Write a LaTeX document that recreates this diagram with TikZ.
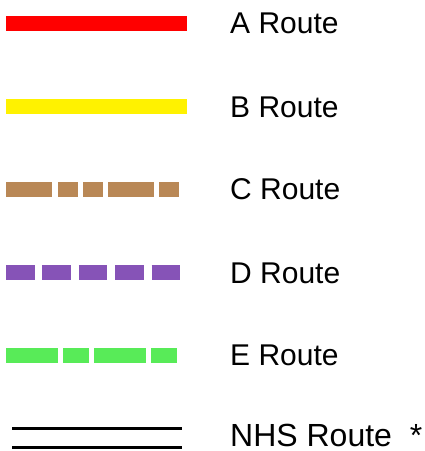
\documentclass[tikz,border=0pt]{standalone}
\usepackage{fontspec}
\setmainfont{Liberation Sans}
\usepackage{tikz}
\usepackage{xcolor}
\definecolor{croute}{RGB}{185,136,86}
\definecolor{droute}{RGB}{134,83,183}
\definecolor{eroute}{RGB}{88,235,88}
\begin{document}
\begin{tikzpicture}[x=1pt,y=-1pt,
  routeline/.style={line width=15pt},
  routename/.style={anchor=base west,inner sep=0pt,font=\fontsize{30}{36}\selectfont}]
\useasboundingbox (0,0) rectangle (425,451);
\draw [routeline, red] (6,23.5) -- (187,23.5);
\draw [routeline, yellow] (6,106.7) -- (187,106.7);
\draw [routeline, croute, dash pattern=on 46pt off 6pt on 20pt off 5pt on 20pt off 5pt on 46pt off 5pt on 20pt off 20pt] (6,189) -- (181,189);
\draw [routeline, droute, dash pattern=on 28.5pt off 7.9pt] (6,272.5) -- (180.5,272.5);
\draw [routeline, eroute, dash pattern=on 52pt off 5pt on 26pt off 5pt] (6,355) -- (177,355);
\draw [line width=3pt] (12,428.5) -- (182,428.5);
\draw [line width=3pt] (12,447.5) -- (182,447.5);
\node [routename] (aname) at (230,33.5) {A Route};
\node [routename] (bname) at (230,117.5) {B Route};
\node [routename] (cname) at (230,199) {C Route};
\node [routename] (dname) at (230,283) {D Route};
\node [routename] (ename) at (230,365.5) {E Route};
\node [routename, font=\fontsize{32}{38}\selectfont] (nhsname) at (230,446) {NHS Route\ \ *};
\end{tikzpicture}
\end{document}
